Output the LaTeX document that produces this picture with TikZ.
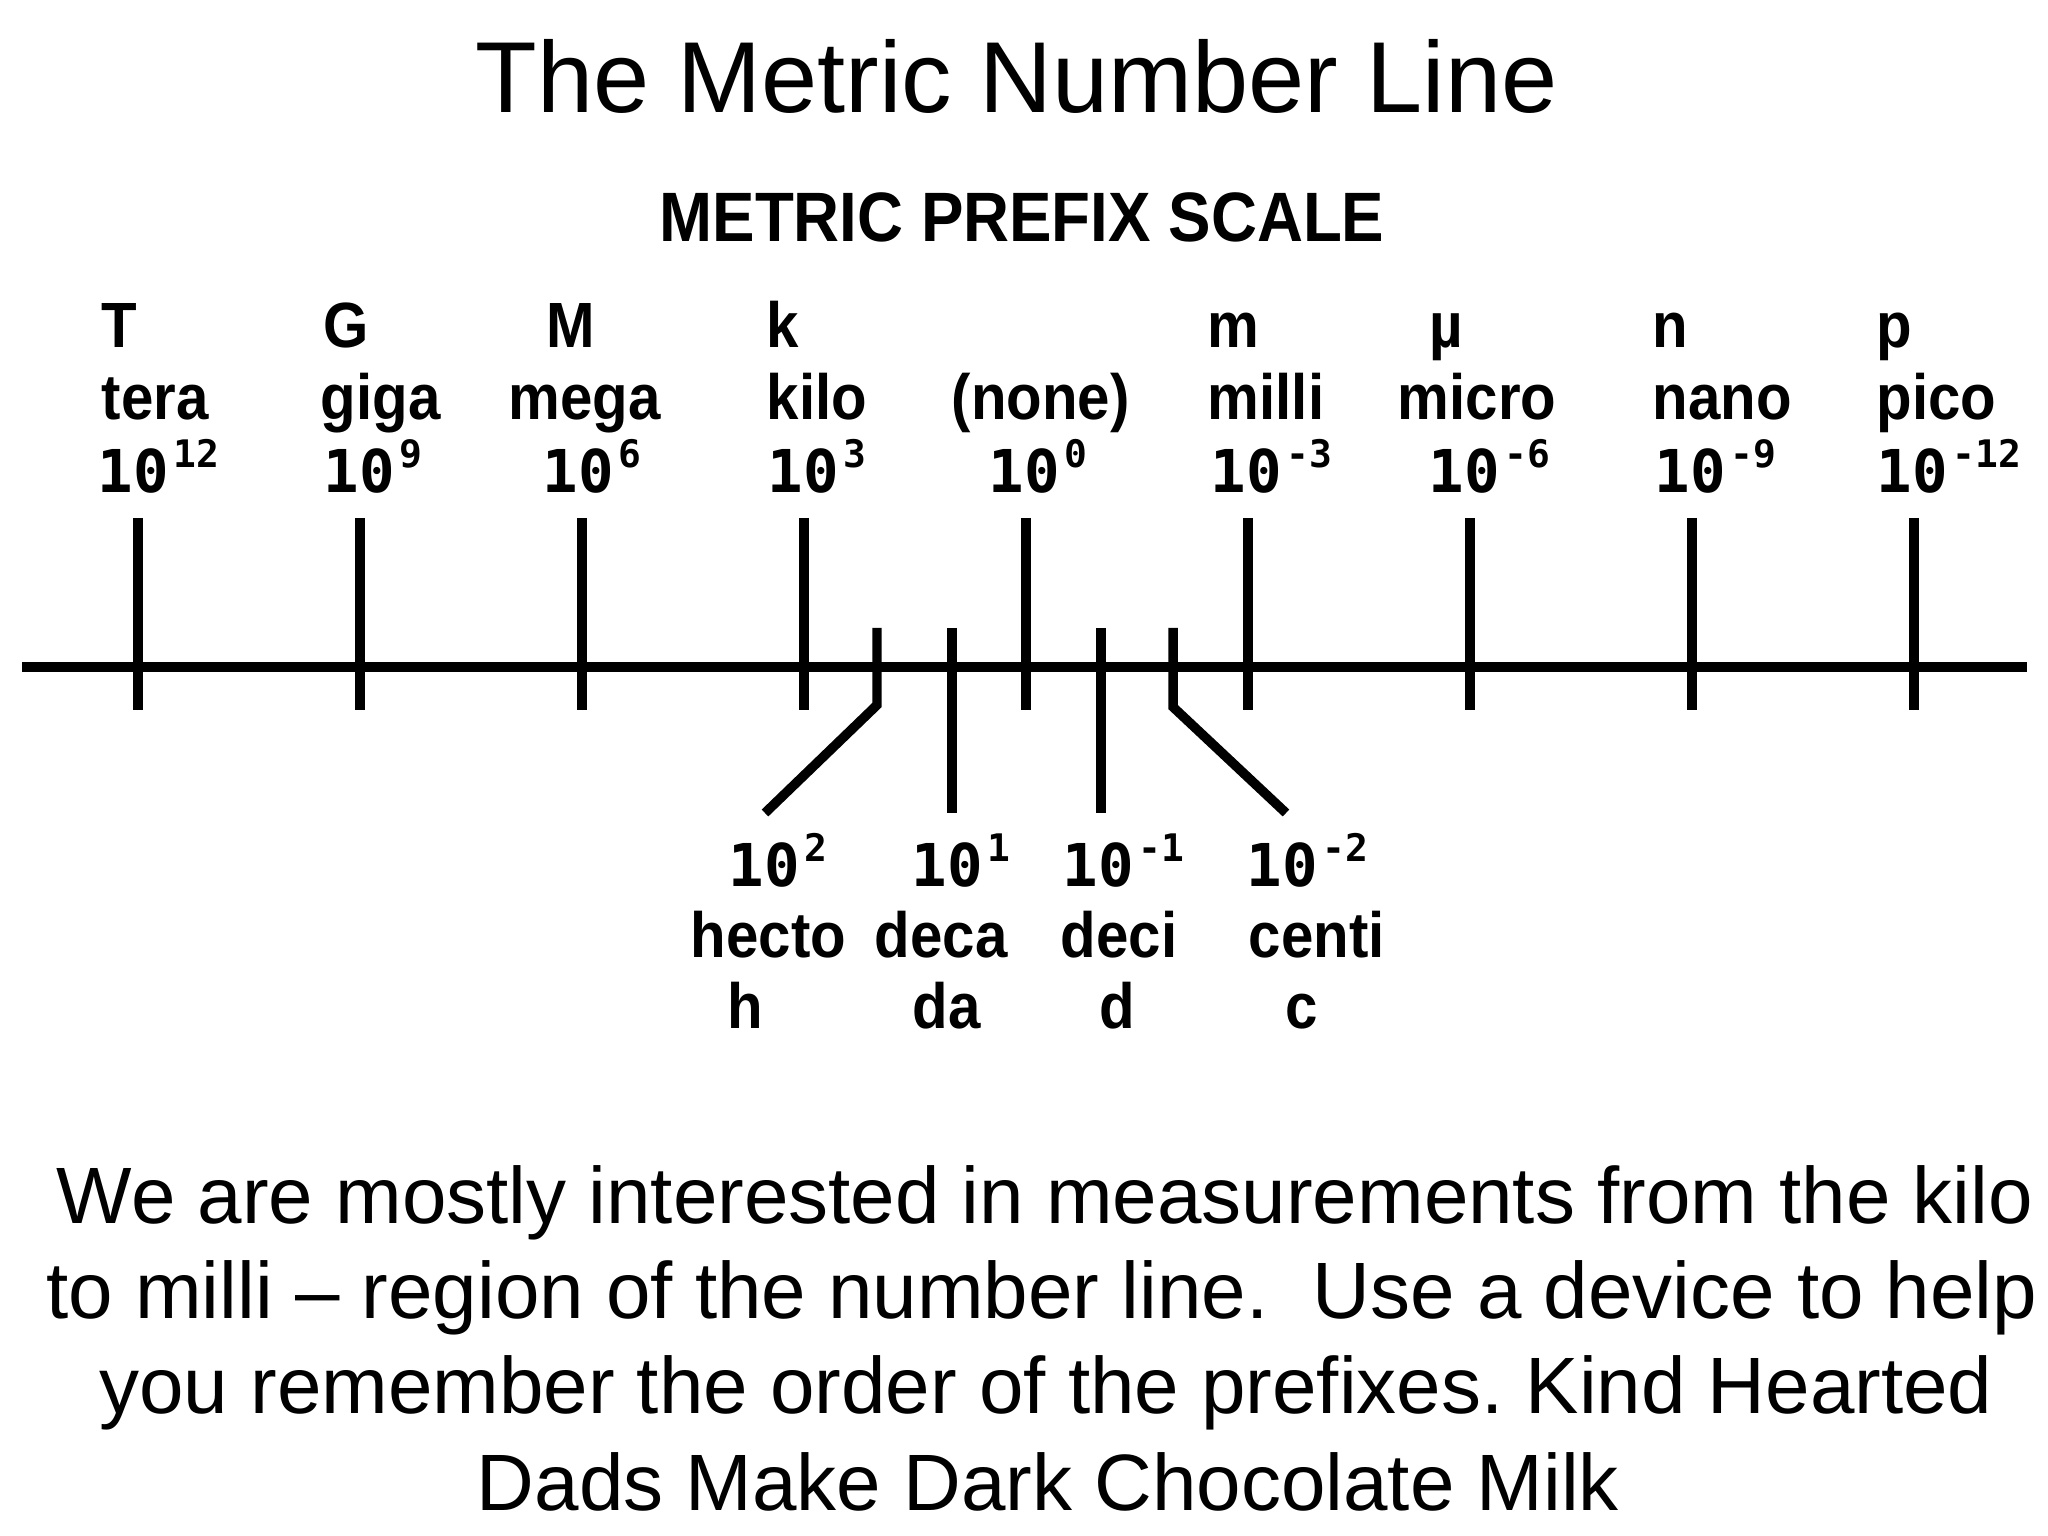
\documentclass[tikz,border=0pt]{standalone}
\usepackage{fontspec}
\setmainfont{Liberation Sans}
\newfontfamily\scalefont[FakeStretch=0.91]{Liberation Sans}
\newfontfamily\numfont{DejaVu Sans Mono}
\newcommand{\tenpow}[1]{{\numfont\bfseries\fontsize{16.8}{20}\selectfont 10\kern0.05cm\raisebox{0.25cm}{\fontsize{10.8}{13}\selectfont #1}}}
\frenchspacing
\usetikzlibrary{positioning}

\begin{document}
\begin{tikzpicture}[
    scaleline/.style={line width=2.7pt},
    prefixlbl/.style={inner sep=0pt, anchor=base west, font=\scalefont\bfseries\fontsize{18.2}{22}\selectfont},
    powerlbl/.style={inner sep=0pt, anchor=base west},
    bigtext/.style={inner sep=0pt, anchor=base, font=\fontsize{22.75}{27}\selectfont}
    ]
        \useasboundingbox (0,0) rectangle (20.48,-15.36);

        \node[inner sep=0pt, anchor=base, font=\fontsize{28.7}{34}\selectfont] (title) at (10.165,-1.13) {The Metric Number Line};
        \node[inner sep=0pt, anchor=base, font=\scalefont\bfseries\fontsize{19.9}{24}\selectfont] (subtitle) at (10.22,-2.42) {METRIC PREFIX SCALE};

        % points on the axis
        \coordinate (axL) at (0.22,-6.67);
        \coordinate (tera) at (1.38,-6.67);
        \coordinate [right=2.22cm of tera] (giga);
        \coordinate [right=2.22cm of giga] (mega);
        \coordinate [right=2.22cm of mega] (kilo);
        \coordinate [right=2.22cm of kilo] (unit);
        \coordinate [right=2.22cm of unit] (milli);
        \coordinate [right=2.22cm of milli] (micro);
        \coordinate [right=2.22cm of micro] (nano);
        \coordinate [right=2.22cm of nano] (pico);
        \coordinate (axR) at (20.27,-6.67);

        \coordinate [right=0.73cm of kilo] (hecto);
        \coordinate [right=1.48cm of kilo] (deca);
        \coordinate [right=0.75cm of unit] (deci);
        \coordinate [right=1.47cm of unit] (centi);

        \draw[scaleline] (axL) -- (axR);

        \draw[scaleline] ([yshift=1.49cm]tera) -- ([yshift=-0.43cm]tera);
        \draw[scaleline] ([yshift=1.49cm]giga) -- ([yshift=-0.43cm]giga);
        \draw[scaleline] ([yshift=1.49cm]mega) -- ([yshift=-0.43cm]mega);
        \draw[scaleline] ([yshift=1.49cm]kilo) -- ([yshift=-0.43cm]kilo);
        \draw[scaleline] ([yshift=1.49cm]unit) -- ([yshift=-0.43cm]unit);
        \draw[scaleline] ([yshift=1.49cm]milli) -- ([yshift=-0.43cm]milli);
        \draw[scaleline] ([yshift=1.49cm]micro) -- ([yshift=-0.43cm]micro);
        \draw[scaleline] ([yshift=1.49cm]nano) -- ([yshift=-0.43cm]nano);
        \draw[scaleline] ([yshift=1.49cm]pico) -- ([yshift=-0.43cm]pico);

        \draw[scaleline] ([yshift=0.39cm]hecto) -- ([yshift=-0.38cm]hecto) -- ++(-1.12,-1.08);
        \draw[scaleline] ([yshift=0.39cm]deca) -- ([yshift=-1.46cm]deca);
        \draw[scaleline] ([yshift=0.39cm]deci) -- ([yshift=-1.46cm]deci);
        \draw[scaleline] ([yshift=0.39cm]centi) -- ([yshift=-0.40cm]centi) -- ++(1.13,-1.06);

        % labels above the line
        \node[prefixlbl] (T) at ([shift={(-0.37,3.19)}]tera) {T};
        \node[prefixlbl] (teraname) at ([shift={(-0.37,2.47)}]tera) {tera};
        \node[powerlbl] (terapow) at ([shift={(-0.41,1.74)}]tera) {\tenpow{12}};

        \node[prefixlbl] (G) at ([shift={(-0.37,3.19)}]giga) {G};
        \node[prefixlbl] (giganame) at ([shift={(-0.40,2.47)}]giga) {giga};
        \node[powerlbl] (gigapow) at ([shift={(-0.37,1.74)}]giga) {\tenpow{9}};

        \node[prefixlbl] (M) at ([shift={(-0.36,3.19)}]mega) {M};
        \node[prefixlbl] (meganame) at ([shift={(-0.74,2.47)}]mega) {mega};
        \node[powerlbl] (megapow) at ([shift={(-0.40,1.74)}]mega) {\tenpow{6}};

        \node[prefixlbl] (k) at ([shift={(-0.38,3.19)}]kilo) {k};
        \node[prefixlbl] (kiloname) at ([shift={(-0.38,2.47)}]kilo) {kilo};
        \node[powerlbl] (kilopow) at ([shift={(-0.37,1.74)}]kilo) {\tenpow{3}};

        \node[prefixlbl] (unitname) at ([shift={(-0.75,2.47)}]unit) {(none)};
        \node[powerlbl] (unitpow) at ([shift={(-0.38,1.74)}]unit) {\tenpow{0}};

        \node[prefixlbl] (m) at ([shift={(-0.41,3.19)}]milli) {m};
        \node[prefixlbl] (milliname) at ([shift={(-0.41,2.47)}]milli) {milli};
        \node[powerlbl] (millipow) at ([shift={(-0.38,1.74)}]milli) {\tenpow{-3}};

        \node[prefixlbl] (mu) at ([shift={(-0.41,3.19)}]micro) {µ};
        \node[prefixlbl] (microname) at ([shift={(-0.73,2.47)}]micro) {micro};
        \node[powerlbl] (micropow) at ([shift={(-0.42,1.74)}]micro) {\tenpow{-6}};

        \node[prefixlbl] (n) at ([shift={(-0.40,3.19)}]nano) {n};
        \node[prefixlbl] (naname) at ([shift={(-0.40,2.47)}]nano) {nano};
        \node[powerlbl] (nanopow) at ([shift={(-0.38,1.74)}]nano) {\tenpow{-9}};

        \node[prefixlbl] (p) at ([shift={(-0.38,3.19)}]pico) {p};
        \node[prefixlbl] (piconame) at ([shift={(-0.38,2.47)}]pico) {pico};
        \node[powerlbl] (picopow) at ([shift={(-0.38,1.74)}]pico) {\tenpow{-12}};

        % labels below the line
        \node[powerlbl] (hectopow) at ([shift={(-1.49,-2.20)}]hecto) {\tenpow{2}};
        \node[prefixlbl] (hectoname) at ([shift={(-1.87,-2.90)}]hecto) {hecto};
        \node[prefixlbl] (h) at ([shift={(-1.50,-3.61)}]hecto) {h};

        \node[powerlbl] (decapow) at ([shift={(-0.41,-2.20)}]deca) {\tenpow{1}};
        \node[prefixlbl] (decaname) at ([shift={(-0.78,-2.90)}]deca) {deca};
        \node[prefixlbl] (da) at ([shift={(-0.40,-3.61)}]deca) {da};

        \node[powerlbl] (decipow) at ([shift={(-0.39,-2.20)}]deci) {\tenpow{-1}};
        \node[prefixlbl] (deciname) at ([shift={(-0.41,-2.90)}]deci) {deci};
        \node[prefixlbl] (d) at ([shift={(-0.02,-3.61)}]deci) {d};

        \node[powerlbl] (centipow) at ([shift={(0.73,-2.20)}]centi) {\tenpow{-2}};
        \node[prefixlbl] (centiname) at ([shift={(0.75,-2.90)}]centi) {centi};
        \node[prefixlbl] (c) at ([shift={(1.12,-3.61)}]centi) {c};

        \node[bigtext] (note1) at (10.45,-12.23) {We are mostly interested in measurements from the kilo};
        \node[bigtext] (note2) at (10.42,-13.18) {to milli -- region of the number line.\ \ Use a device to help};
        \node[bigtext] (note3) at (10.46,-14.13) {you remember the order of the prefixes. Kind Hearted};
        \node[bigtext] (note4) at (10.48,-15.10) {Dads Make Dark Chocolate Milk};
\end{tikzpicture}
\end{document}
